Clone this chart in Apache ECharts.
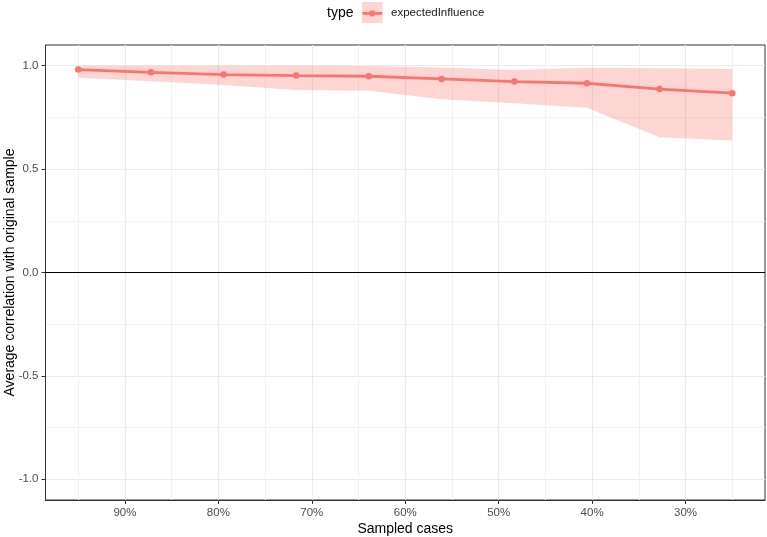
<!DOCTYPE html>
<html>
<head>
<meta charset="utf-8">
<script src="https://cdn.jsdelivr.net/npm/echarts@6/dist/echarts.min.js"></script>
<style>
html,body{margin:0;padding:0;background:#fff;}
#chart{width:767px;height:537px;}
</style>
</head>
<body>
<div id="chart"></div>
<script>
// ---- data ----
const sampledCases = [0.95, 0.8722, 0.7944, 0.7167, 0.6389, 0.5611, 0.4833, 0.4056, 0.3278, 0.25];
const meanCor  = [0.981, 0.968, 0.957, 0.952, 0.949, 0.936, 0.923, 0.915, 0.887, 0.867];
const lowerCor = [0.942, 0.925, 0.907, 0.883, 0.879, 0.838, 0.818, 0.796, 0.654, 0.638];
const upperCor = [1.000, 1.000, 1.000, 1.000, 0.999, 0.991, 0.979, 0.990, 0.987, 0.984];
const xMajorTicks = [0.9, 0.8, 0.7, 0.6, 0.5, 0.4, 0.3];
const xMinorTicks = [0.95, 0.85, 0.75, 0.65, 0.55, 0.45, 0.35, 0.25];
const yMajorTicks = [-1, -0.5, 0, 0.5, 1];
const yMinorTicks = [-0.75, -0.25, 0.25, 0.75];
const seriesName = 'expectedInfluence';
const legendTitle = 'type';
const xTitle = 'Sampled cases';
const yTitle = 'Average correlation with original sample';

const FONT = '"Liberation Sans", Arial, Helvetica, sans-serif';
const RED = '#F8766D';

const bandData = sampledCases.map((x, i) => [x, lowerCor[i], upperCor[i]]);
const meanData = sampledCases.map((x, i) => [x, meanCor[i]]);

const chart = echarts.init(document.getElementById('chart'), null, {renderer: 'canvas'});

const xBase = {type: 'value', min: 0.215, max: 0.985, inverse: true};
const yBase = {type: 'value', min: -1.1, max: 1.1};

chart.setOption({
  animation: false,
  backgroundColor: '#ffffff',
  textStyle: {fontFamily: FONT},
  grid: {left: 45.5, right: 2, top: 45, bottom: 37, show: true, borderColor: '#333333', borderWidth: 1,
    backgroundColor: 'transparent', containLabel: false, outerBoundsMode: 'none'},
  graphic: [
    {type: 'text', left: 327, top: 6.3, z: 10, style: {text: legendTitle, fontSize: 14, fontFamily: FONT, fill: '#000000'}},
    {type: 'rect', shape: {x: 362, y: 2, width: 20.5, height: 21}, z: 1, style: {fill: 'rgba(248,118,109,0.3)'}}
  ],
  legend: {
    data: [{name: seriesName, icon: 'path://M0,1.6h20v2.8h-20z M10,-0.2a3.2,3.2 0 1,1 -0.001,0z'}],
    left: 362.5, top: 7.3, padding: 0,
    itemWidth: 19.5, itemHeight: 6.4,
    z: 20,
    itemStyle: {color: RED, borderWidth: 0},
    textStyle: {fontSize: 11.5, color: '#1a1a1a', fontFamily: FONT, padding: [0, 0, 0, 4]},
    selectedMode: false
  },
  xAxis: [
    Object.assign({}, xBase, {
      name: xTitle, nameLocation: 'middle', nameGap: 22, nameMoveOverlap: false,
      nameTextStyle: {fontSize: 14, color: '#000000', fontFamily: FONT},
      axisLine: {show: true, onZero: false, lineStyle: {color: '#333333', width: 1}},
      axisTick: {show: true, length: 4, customValues: xMajorTicks, lineStyle: {color: '#333333', width: 1}},
      axisLabel: {show: true, customValues: xMajorTicks, margin: 7, fontSize: 11.5, color: '#4D4D4D', fontFamily: FONT,
        formatter: v => Math.round(v * 100) + '%'},
      splitLine: {show: true, lineStyle: {color: '#EBEBEB', width: 1.2}}
    }),
    Object.assign({}, xBase, {
      position: 'bottom',
      axisLine: {show: false, onZero: false},
      axisTick: {show: false, customValues: xMinorTicks},
      axisLabel: {show: false, customValues: xMinorTicks},
      splitLine: {show: true, lineStyle: {color: '#F2F2F2', width: 1}}
    })
  ],
  yAxis: [
    Object.assign({}, yBase, {
      name: yTitle, nameLocation: 'middle', nameGap: 28, nameMoveOverlap: false,
      nameTextStyle: {fontSize: 14, color: '#000000', fontFamily: FONT},
      axisLine: {show: true, onZero: false, lineStyle: {color: '#333333', width: 1}},
      axisTick: {show: true, length: 4, customValues: yMajorTicks, lineStyle: {color: '#333333', width: 1}},
      axisLabel: {show: true, customValues: yMajorTicks, margin: 7, fontSize: 11.5, color: '#4D4D4D', fontFamily: FONT,
        formatter: v => v.toFixed(1)},
      splitLine: {show: true, lineStyle: {color: '#EBEBEB', width: 1.2}}
    }),
    Object.assign({}, yBase, {
      position: 'left',
      axisLine: {show: false, onZero: false},
      axisTick: {show: false, customValues: yMinorTicks},
      axisLabel: {show: false, customValues: yMinorTicks},
      splitLine: {show: true, lineStyle: {color: '#F2F2F2', width: 1}}
    })
  ],
  series: [
    {
      name: 'band', type: 'custom', silent: true, z: 1,
      data: bandData,
      encode: {x: 0, y: [1, 2]},
      renderItem: function (params, api) {
        if (params.dataIndex !== 0) return null;
        const pts = [];
        for (let i = 0; i < sampledCases.length; i++) pts.push(api.coord([sampledCases[i], upperCor[i]]));
        for (let i = sampledCases.length - 1; i >= 0; i--) pts.push(api.coord([sampledCases[i], lowerCor[i]]));
        return {type: 'polygon', shape: {points: pts}, style: {fill: 'rgba(248,118,109,0.3)', stroke: null}};
      }
    },
    {
      name: seriesName, type: 'line', data: meanData, z: 3,
      color: RED,
      symbol: 'circle', symbolSize: 6.5, showSymbol: true,
      lineStyle: {color: RED, width: 2.8},
      itemStyle: {color: RED},
      markLine: {
        silent: true, symbol: 'none', label: {show: false},
        lineStyle: {color: '#000000', width: 1.1, type: 'solid'},
        data: [{yAxis: 0}]
      }
    }
  ]
});
</script>
</body>
</html>
